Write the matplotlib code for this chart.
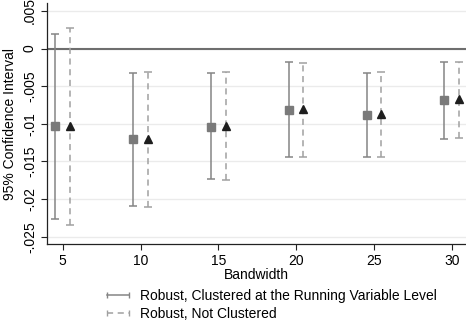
import matplotlib
matplotlib.use("Agg")
import matplotlib.pyplot as plt
from matplotlib.lines import Line2D
import numpy as np

bandwidth = [5, 10, 15, 20, 25, 30]

# Robust, clustered at running variable level
clu_est = [-0.01029, -0.01206, -0.01040, -0.00817, -0.00883, -0.00684]
clu_lo = [-0.02266, -0.02093, -0.01738, -0.01446, -0.01446, -0.01206]
clu_hi = [0.00194, -0.00328, -0.00321, -0.00182, -0.00320, -0.00174]

# Robust, not clustered
nc_est = [-0.01030, -0.01200, -0.01030, -0.00808, -0.00870, -0.00674]
nc_lo = [-0.02346, -0.02100, -0.01751, -0.01441, -0.01446, -0.01193]
nc_hi = [0.00270, -0.00307, -0.00308, -0.00188, -0.00315, -0.00174]

yticks = [0.005, 0, -0.005, -0.01, -0.015, -0.02, -0.025]
ytick_labels = [".005", "0", "-.005", "-.01", "-.015", "-.02", "-.025"]
xticks = [5, 10, 15, 20, 25, 30]

plt.rcParams['font.family'] = ['Liberation Sans', 'DejaVu Sans']

fig = plt.figure(figsize=(4.66, 3.26), dpi=100)
ax = fig.add_axes([0.1002, 0.2506, 0.8998, 0.7402])

bw = np.array(bandwidth, dtype=float)
off = 0.47

c_line = "#858585"
c_sq = "#7a7a7a"
c_dash = "#a0a0a0"
c_tri = "#1e1e1e"

ce = np.array(clu_est); cl = np.array(clu_lo); ch = np.array(clu_hi)
ne = np.array(nc_est); nl = np.array(nc_lo); nh = np.array(nc_hi)

# gridlines
for t in yticks:
    ax.axhline(t, color="#ebebeb", lw=1.0, zorder=0)
ax.axhline(0, color="#6e6e6e", lw=1.5, zorder=1)

eb1 = ax.errorbar(bw - off, ce, yerr=[ce - cl, ch - ce], fmt='none',
                  ecolor=c_line, elinewidth=1.1, capsize=2.6, capthick=1.1, zorder=2)
eb2 = ax.errorbar(bw + off, ne, yerr=[ne - nl, nh - ne], fmt='none',
                  ecolor=c_dash, elinewidth=1.1, capsize=2.6, capthick=1.1, zorder=2)
for lc in eb2[2]:
    lc.set_linestyle((0, (4, 3)))
ax.plot(bw - off, ce, linestyle='none', marker='s', markersize=5.2,
        color=c_sq, zorder=3)
ax.plot(bw + off, ne, linestyle='none', marker='^', markersize=5.4,
        color=c_tri, zorder=3)

ax.set_xlim(3.97, 30.92)
ax.set_ylim(-0.02602, 0.00606)
ax.set_xticks(xticks)
ax.set_xticklabels([str(x) for x in xticks], fontsize=10)
ax.set_yticks(yticks)
ax.set_yticklabels(ytick_labels, fontsize=10, rotation=90, va='center')
ax.tick_params(axis='both', direction='out', length=4, width=0.8, color='#222222')
ax.tick_params(axis='y', pad=3)
ax.tick_params(axis='x', pad=3)

for s in ['top', 'right']:
    ax.spines[s].set_visible(False)
for s in ['left', 'bottom']:
    ax.spines[s].set_color('#222222')
    ax.spines[s].set_linewidth(0.9)

ax.set_xlabel("Bandwidth", fontsize=10, labelpad=0)
ax.set_ylabel("95% Confidence Interval", fontsize=10, labelpad=4)

h1 = Line2D([], [], color=c_line, lw=1.1, marker='|', markersize=5, markeredgewidth=1.0)
h2 = Line2D([], [], color=c_dash, lw=1.1, linestyle=(0, (4, 3)), marker='|',
            markersize=5, markeredgewidth=1.0)
fig.legend([h1, h2], ["Robust, Clustered at the Running Variable Level",
                      "Robust, Not Clustered"],
           loc='upper left', bbox_to_anchor=(0.215, 0.115 + 0.0), frameon=False,
           fontsize=10, numpoints=2, handlelength=2.2, handletextpad=0.5,
           labelspacing=0.3, borderpad=0.0, borderaxespad=0)
fig.legends[0].set_bbox_to_anchor((0.22, 0.113), transform=fig.transFigure)

fig.savefig("out.png", dpi=100, facecolor='white')
